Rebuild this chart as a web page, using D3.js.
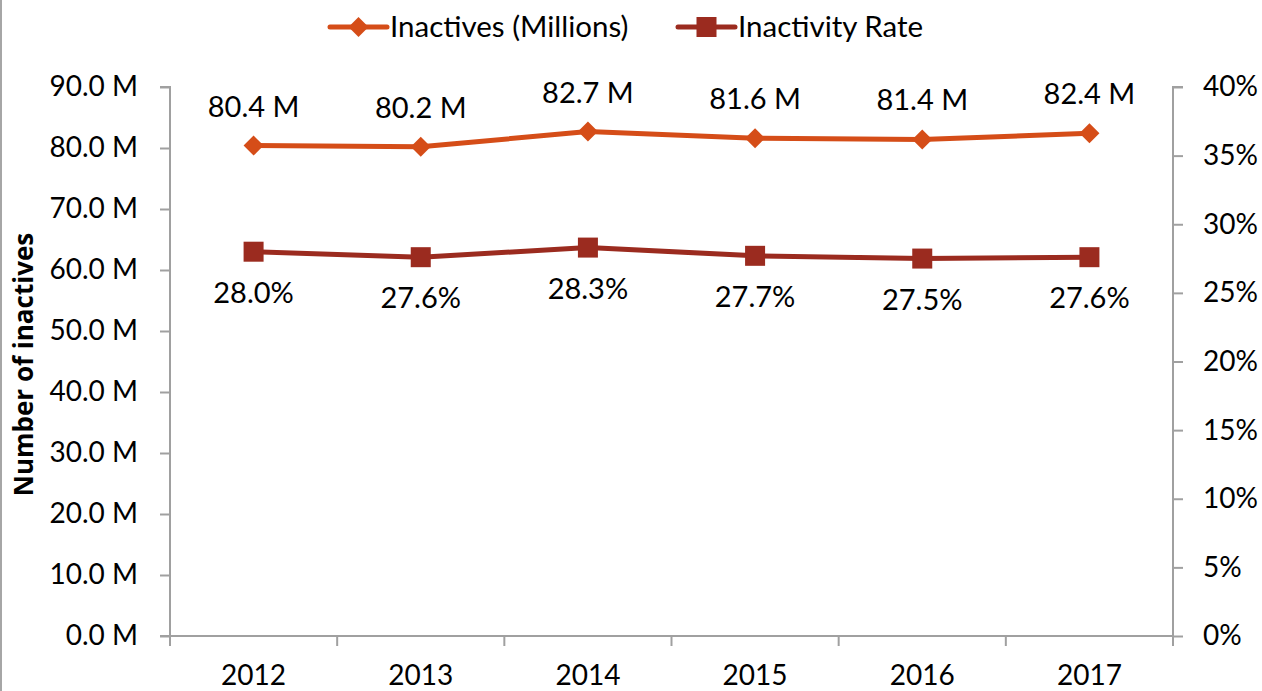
<!DOCTYPE html>
<html><head><meta charset="utf-8">
<script src="https://cdn.jsdelivr.net/npm/d3@7"></script>
<style>
html,body{margin:0;padding:0;background:#fff;}
svg{display:block;font-family:Lato, "Noto Sans", sans-serif;}
</style></head>
<body>
<svg id="chart" width="1262" height="691"></svg>
<script>
const years = ["2012","2013","2014","2015","2016","2017"];
const inactives = [80.4, 80.2, 82.7, 81.6, 81.4, 82.4];
const rates = [28.0, 27.6, 28.3, 27.7, 27.5, 27.6];
const leftTicks = [0,10,20,30,40,50,60,70,80,90];
const rightTicks = [0,5,10,15,20,25,30,35,40];
const seriesNames = ["Inactives (Millions)", "Inactivity Rate"];
const yTitle = "Number of inactives";

const W = 1262, H = 691;
const m = {left:170, right:1173, top:87, bottom:636};
const orange = "#D54D18", red = "#9B2B1F", axisCol = "#A0A0A0";
const fs = 28, fsLab = 29, fsLeg = 29.5;

const svg = d3.select("#chart");
const x = d3.scaleBand().domain(years).range([m.left, m.right]);
const yL = d3.scaleLinear().domain([0,90]).range([m.bottom, m.top]);
const yR = d3.scaleLinear().domain([0,40]).range([m.bottom, m.top]);
const cx = d => x(d) + x.bandwidth()/2;

// left border
svg.append("line").attr("x1",1).attr("x2",1).attr("y1",0).attr("y2",H)
  .attr("stroke","#a6a6a6").attr("stroke-width",2);

// left axis
const gL = svg.append("g").attr("transform",`translate(${m.left},0)`)
  .call(d3.axisLeft(yL).tickValues(leftTicks).tickSize(10).tickPadding(22)
    .tickFormat(d => d3.format(".1f")(d) + " M"));
// right axis
const gR = svg.append("g").attr("transform",`translate(${m.right},0)`)
  .call(d3.axisRight(yR).tickValues(rightTicks).tickSize(10).tickPadding(20)
    .tickFormat(d => d + "%"));
// bottom axis
const xTickScale = d3.scaleLinear().domain([0,6]).range([m.left, m.right]);
const gB = svg.append("g").attr("transform",`translate(0,${m.bottom})`)
  .call(d3.axisBottom(x).tickSize(0).tickPadding(29));
gB.selectAll(".tick line").remove();
svg.append("g").selectAll("line").data(d3.range(7)).join("line")
  .attr("x1", d => xTickScale(d)).attr("x2", d => xTickScale(d))
  .attr("y1", m.bottom).attr("y2", m.bottom + 10)
  .attr("stroke", axisCol).attr("stroke-width", 2);

[gL,gR,gB].forEach(g => {
  g.select(".domain").attr("stroke",axisCol).attr("stroke-width",2);
  g.selectAll(".tick line").attr("stroke",axisCol).attr("stroke-width",2);
  g.selectAll("text").attr("fill","#000").style("font-size",fs+"px").style("font-family","Lato");
});
gL.select(".domain").attr("d", `M-10,${m.top}H0V${m.bottom}`);
gR.select(".domain").attr("d", `M10,${m.top}H0V${m.bottom}`);
gB.select(".domain").attr("d", `M${m.left-10},0H${m.right}`);

// y title
svg.append("text").attr("transform",`translate(33,${(m.top+m.bottom)/2+3}) rotate(-90)`)
  .attr("text-anchor","middle").style("font-size","26px").style("font-weight","bold")
  .style("font-family","'Open Sans', 'Noto Sans', sans-serif")
  .text(yTitle);

// lines
const lineL = d3.line().x((d,i)=>cx(years[i])).y(d=>yL(d));
const lineR = d3.line().x((d,i)=>cx(years[i])).y(d=>yR(d));
svg.append("path").attr("d", lineL(inactives)).attr("fill","none")
  .attr("stroke",orange).attr("stroke-width",5).attr("stroke-linejoin","round");
svg.append("path").attr("d", lineR(rates)).attr("fill","none")
  .attr("stroke",red).attr("stroke-width",5).attr("stroke-linejoin","round");

const diamond = (px,py,s) => `M${px},${py-s}L${px+s},${py}L${px},${py+s}L${px-s},${py}Z`;
svg.append("g").selectAll("path").data(inactives).join("path")
  .attr("d",(d,i)=>diamond(cx(years[i]), yL(d), 10)).attr("fill",orange);
svg.append("g").selectAll("rect").data(rates).join("rect")
  .attr("x",(d,i)=>cx(years[i])-10).attr("y",d=>yR(d)-10)
  .attr("width",20).attr("height",20).attr("fill",red);

// data labels
svg.append("g").selectAll("text").data(inactives).join("text")
  .attr("x",(d,i)=>cx(years[i])).attr("y",d=>yL(d)-29)
  .attr("text-anchor","middle").style("font-size",fsLab+"px")
  .text(d=>d3.format(".1f")(d)+" M");
svg.append("g").selectAll("text").data(rates).join("text")
  .attr("x",(d,i)=>cx(years[i])).attr("y",d=>yR(d)+51)
  .attr("text-anchor","middle").style("font-size",fsLab+"px")
  .text(d=>d3.format(".1f")(d)+"%");

// legend
const leg = svg.append("g");
const legItems = [
  {name:seriesNames[0], color:orange, shape:"diamond", x0:330},
  {name:seriesNames[1], color:red, shape:"square", x0:678}
];
legItems.forEach(it => {
  const yC = 27;
  leg.append("line").attr("x1",it.x0).attr("x2",it.x0+57).attr("y1",yC).attr("y2",yC)
    .attr("stroke",it.color).attr("stroke-width",5).attr("stroke-linecap","round");
  const mx = it.x0+28.5;
  if (it.shape==="diamond") leg.append("path").attr("d",diamond(mx,yC,10)).attr("fill",it.color);
  else leg.append("rect").attr("x",mx-10).attr("y",yC-10).attr("width",20).attr("height",20).attr("fill",it.color);
  leg.append("text").attr("x",it.x0+60).attr("y",yC+10).style("font-size",fsLeg+"px").text(it.name);
});
</script>
</body></html>
